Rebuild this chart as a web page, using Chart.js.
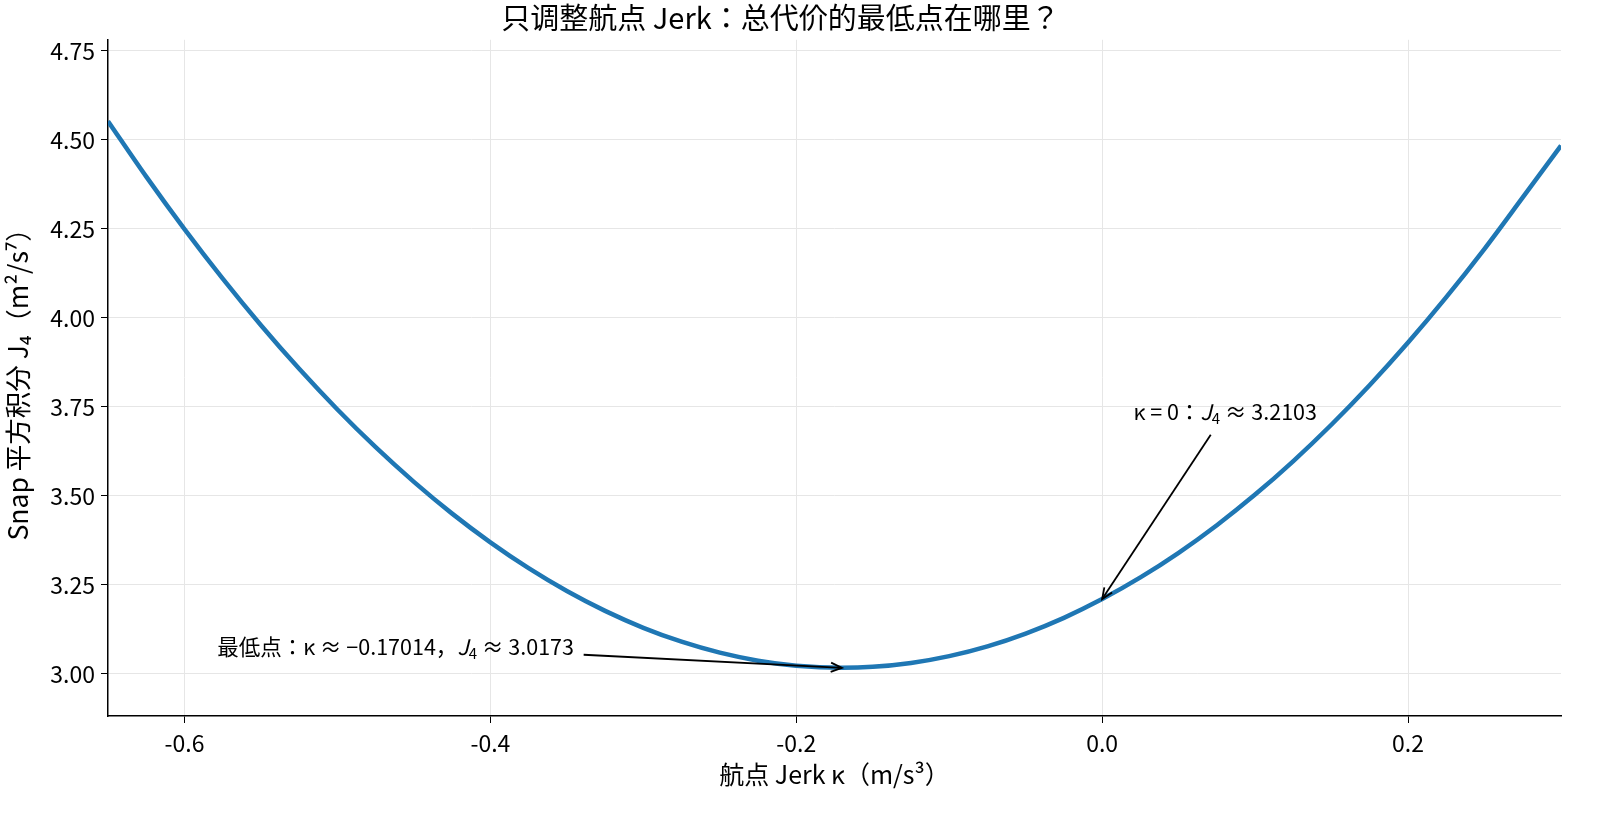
<!DOCTYPE html>
<html><head><meta charset="utf-8">
<script src="https://cdn.jsdelivr.net/npm/chart.js@4/dist/chart.umd.min.js"></script>
<style>html,body{margin:0;padding:0;background:#fff;overflow:hidden}#c{display:block}</style>
</head><body><canvas id="c" width="1600" height="815" style="width:1600px;height:815px"></canvas>
<script>
const kappa = [-0.65,-0.625,-0.6,-0.575,-0.55,-0.525,-0.5,-0.475,-0.45,-0.425,-0.4,-0.375,-0.35,-0.325,-0.3,-0.275,-0.25,-0.225,-0.2,-0.17014,-0.15,-0.125,-0.1,-0.075,-0.05,-0.025,0,0.025,0.05,0.075,0.1,0.125,0.15,0.175,0.2,0.225,0.25,0.275,0.3];
const j4 = [4.5525,4.3967,4.2492,4.1101,3.9793,3.8569,3.7427,3.6369,3.5395,3.4503,3.3696,3.2971,3.2330,3.1772,3.1297,3.0906,3.0598,3.0374,3.0232,3.0173,3.0200,3.0309,3.0501,3.0776,3.1135,3.1577,3.2103,3.2712,3.3404,3.4179,3.5038,3.5980,3.7006,3.8115,3.9307,4.0583,4.1941,4.3384,4.4839];
const xTicks = [-0.6,-0.4,-0.2,0.0,0.2];
const yTicks = [3.00,3.25,3.50,3.75,4.00,4.25,4.50,4.75];
const minPoint = {x:-0.17014, y:3.0173};
const zeroPoint = {x:0, y:3.2103};

const FONT = '"Noto Sans CJK JP","Noto Sans CJK SC","Noto Sans",sans-serif';

const annotations = [
  {target:minPoint, textX:-0.5785, textY:3.076, tailX:-0.339, tailY:3.054,
   parts:[['最低点：κ ≈ −0.17014，','n'],['J','i'],['4','s'],[' ≈ 3.0173','n']]},
  {target:zeroPoint, textX:0.0205, textY:3.735, tailX:0.071, tailY:3.672,
   parts:[['κ = 0：','n'],['J','i'],['4','s'],[' ≈ 3.2103','n']]}
];

const annPlugin = {
  id:'ann',
  afterDatasetsDraw(chart){
    const ctx = chart.ctx, xs = chart.scales.x, ys = chart.scales.y;
    ctx.save();
    annotations.forEach(a=>{
      let x = xs.getPixelForValue(a.textX), y = ys.getPixelForValue(a.textY);
      ctx.fillStyle = '#000'; ctx.textBaseline = 'middle'; ctx.textAlign='left';
      a.parts.forEach(([t,s])=>{
        let f, dy=0;
        if(s==='n') f = '21.5px '+FONT;
        else if(s==='i') f = 'italic 21.5px '+FONT;
        else { f = '15px '+FONT; dy = 6; }
        ctx.font = f;
        ctx.fillText(t, x, y+dy);
        x += ctx.measureText(t).width;
      });
      const x0 = xs.getPixelForValue(a.tailX), y0 = ys.getPixelForValue(a.tailY);
      const x1 = xs.getPixelForValue(a.target.x), y1 = ys.getPixelForValue(a.target.y);
      ctx.strokeStyle='#000'; ctx.lineWidth=1.8;
      ctx.beginPath(); ctx.moveTo(x0,y0); ctx.lineTo(x1,y1); ctx.stroke();
      const ang = Math.atan2(y1-y0, x1-x0), L=12, W=0.4;
      ctx.beginPath();
      ctx.moveTo(x1-L*Math.cos(ang-W), y1-L*Math.sin(ang-W));
      ctx.lineTo(x1,y1);
      ctx.lineTo(x1-L*Math.cos(ang+W), y1-L*Math.sin(ang+W));
      ctx.stroke();
    });
    ctx.restore();
  }
};

new Chart(document.getElementById('c'), {
  type:'line',
  data:{datasets:[{
    data: kappa.map((k,i)=>({x:k,y:j4[i]})),
    borderColor:'#1f77b4', borderWidth:4.5, pointRadius:0,
    cubicInterpolationMode:'monotone', fill:false
  }]},
  options:{
    responsive:false, animation:false, devicePixelRatio:1,
    layout:{padding:{top:0,right:39,bottom:0,left:0}},
    plugins:{
      legend:{display:false}, tooltip:{enabled:false},
      title:{display:true, text:'只调整航点 Jerk：总代价的最低点在哪里？', color:'#000',
        font:{family:FONT, size:29, weight:'normal', lineHeight:1.2}, padding:{top:1,bottom:4}}
    },
    scales:{
      x:{type:'linear', min:-0.65, max:0.3,
        afterBuildTicks(s){ s.ticks = xTicks.map(v=>({value:v})); },
        afterFit(s){ s.height = 99; },
        ticks:{color:'#000', font:{family:FONT,size:23}, padding:6, maxRotation:0,
          callback:v=> (Math.abs(v)<1e-9 ? '0.0' : String(v))},
        grid:{color:'#e6e6e6', lineWidth:1, drawTicks:true, tickLength:7, tickColor:'#000'},
        border:{display:true, color:'#000', width:1.5},
        title:{display:true, text:'航点 Jerk κ（m/s³）', color:'#000', font:{family:FONT,size:25}, padding:{top:2,bottom:26}}
      },
      y:{type:'linear', min:2.882, max:4.781,
        afterBuildTicks(s){ s.ticks = yTicks.map(v=>({value:v})); },
        afterFit(s){ s.width = 108; },
        ticks:{color:'#000', font:{family:FONT,size:23}, padding:6, callback:v=>v.toFixed(2)},
        grid:{color:'#e6e6e6', lineWidth:1, drawTicks:true, tickLength:7, tickColor:'#000'},
        border:{display:true, color:'#000', width:1.5},
        title:{display:true, text:'Snap 平方积分 J₄（m²/s⁷）', color:'#000', font:{family:FONT,size:26.5}, padding:{top:2,bottom:4}}
      }
    }
  },
  plugins:[annPlugin]
});
</script>
</body></html>
